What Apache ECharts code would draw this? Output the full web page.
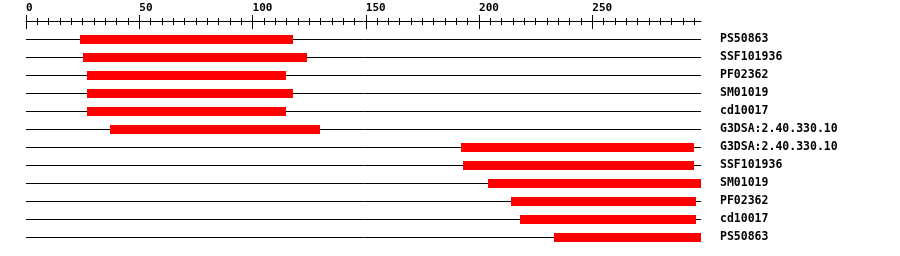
<!DOCTYPE html>
<html><head><meta charset="utf-8">
<script src="https://cdn.jsdelivr.net/npm/echarts@6/dist/echarts.min.js"></script>
<style>html,body{margin:0;padding:0;background:#fff}#c{width:900px;height:256px}</style>
</head><body><div id="c"></div>
<script>
const names = ['PS50863','SSF101936','PF02362','SM01019','cd10017','G3DSA:2.40.330.10','G3DSA:2.40.330.10','SSF101936','SM01019','PF02362','cd10017','PS50863'];
const starts = [24,25,27,27,27,37,192,193,204,214,218,233];
const ends = [118,124,115,118,115,130,295,295,298,296,296,298];
const seqLength = 298;
const majorTicks = [0,50,100,150,200,250];
const minorTicks = [];
for (let v = 5; v < seqLength; v += 5) if (v % 50) minorTicks.push(v);

const font = 'DejaVu Sans Mono';
const chart = echarts.init(document.getElementById('c'), null, {renderer:'canvas'});
const baseX = {type:'value', min:0, max:seqLength, position:'top', splitLine:{show:false}};
chart.setOption({
  animation:false,
  grid:{left:26, right:199, top:39, bottom:19},
  xAxis:[
    Object.assign({}, baseX, {offset:18,
      axisLine:{show:true, lineStyle:{color:'#000', width:1}},
      axisTick:{show:false},
      axisLabel:{show:true, customValues:majorTicks, align:'left', margin:7, color:'#000',
        fontFamily:font, fontWeight:'bold', fontSize:11}}),
    Object.assign({}, baseX, {offset:10,
      axisLine:{show:false},
      axisTick:{show:true, customValues:majorTicks, length:14, lineStyle:{color:'#000', width:1}},
      axisLabel:{show:false}}),
    Object.assign({}, baseX, {offset:14,
      axisLine:{show:false},
      axisTick:{show:true, customValues:minorTicks, length:7, lineStyle:{color:'#000', width:1}},
      axisLabel:{show:false}})
  ],
  yAxis:{type:'category', data:names.map((_, i) => String(i)), inverse:true, boundaryGap:false,
    position:'right', axisLine:{show:false}, axisTick:{show:false}, splitLine:{show:false},
    axisLabel:{margin:19, align:'left', color:'#000', fontFamily:font, fontWeight:'bold', fontSize:11.5,
      padding:[2,0,0,0], formatter:(v, i) => names[i]}},
  series:[{
    type:'custom', xAxisIndex:0, yAxisIndex:0,
    encode:{x:[1,2], y:0},
    data: names.map((n, i) => [i, starts[i], ends[i]]),
    renderItem:(params, api) => {
      const row = api.value(0);
      const a = api.coord([0, row]), b = api.coord([seqLength, row]);
      const s = api.coord([api.value(1), row]), e = api.coord([api.value(2), row]);
      const y = Math.round(a[1]);
      return {type:'group', children:[
        {type:'line', shape:{x1:a[0], y1:y+0.5, x2:b[0], y2:y+0.5}, style:{stroke:'#000', lineWidth:1}},
        {type:'rect', shape:{x:Math.round(s[0]), y:y-4, width:Math.round(e[0])-Math.round(s[0]), height:9}, style:{fill:'#ff0000'}}
      ]};
    }
  }]
});
</script></body></html>
